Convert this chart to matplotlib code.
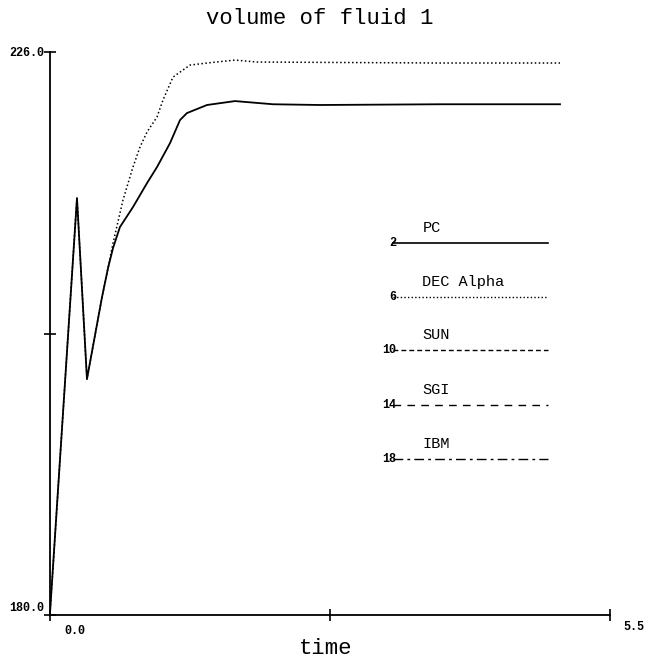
import matplotlib
matplotlib.use("Agg")
import matplotlib.pyplot as plt
from matplotlib.lines import Line2D

# ---- data ----
title = "volume of fluid 1"
xlabel = "time"
x_ticklabels = ["0.0", "5.5"]
y_ticklabels = ["180.0", "226.0"]
xlim = (0.0, 5.5)
ylim = (180.0, 226.0)

pc_time = [0.0, 0.265, 0.363, 0.511, 0.570, 0.619, 0.687, 0.815, 0.953, 1.051,
           1.179, 1.277, 1.345, 1.542, 1.817, 2.190, 2.652, 3.830, 5.009]
pc_vol = [180.16, 214.07, 199.28, 205.98, 208.35, 209.98, 211.70, 213.33, 215.29, 216.60,
          218.56, 220.44, 221.01, 221.67, 221.99, 221.73, 221.67, 221.73, 221.73]

dec_time = [0.0, 0.265, 0.363, 0.511, 0.570, 0.619, 0.717, 0.815, 0.884, 0.953,
            1.051, 1.110, 1.208, 1.375, 1.542, 1.817, 2.033, 3.830, 5.009]
dec_vol = [180.16, 214.07, 199.28, 205.98, 208.35, 210.39, 213.91, 216.60, 218.24, 219.46,
           220.69, 222.08, 223.95, 224.93, 225.10, 225.34, 225.18, 225.10, 225.10]

legend_names = ["PC", "DEC Alpha", "SUN", "SGI", "IBM"]
legend_ids = ["2", "6", "10", "14", "18"]

# ---- styles ----
styles = ["-", (0, (1, 1.6)), (0, (3.5, 2.2)), (0, (5.5, 4.5)), (0, (7, 3, 2, 3))]
mono = "Liberation Mono"

fig = plt.figure(figsize=(6.48, 6.65), dpi=100)
ax = fig.add_axes([50/648, 50/665, 560/648, 563/665])
ax.set_xlim(*xlim)
ax.set_ylim(*ylim)
for s in ["top", "right"]:
    ax.spines[s].set_visible(False)
for s in ["left", "bottom"]:
    ax.spines[s].set_linewidth(1.3)
    ax.spines[s].set_color("black")

ax.plot(pc_time, pc_vol, color="black", lw=1.3, linestyle=styles[0])
ax.plot(dec_time, dec_vol, color="black", lw=1.1, linestyle=styles[1])

# ticks (unlabelled), labels drawn as text
ax.set_xticks([xlim[0], (xlim[0]+xlim[1])/2, xlim[1]])
ax.set_yticks([ylim[0], (ylim[0]+ylim[1])/2, ylim[1]])
ax.set_xticklabels([])
ax.set_yticklabels([])
ax.tick_params(direction="inout", length=8, width=1.2, color="black")

tfont = dict(family=mono, fontsize=8.5, fontweight="bold")
ax.annotate(y_ticklabels[1], (0, 1), xycoords="axes fraction", xytext=(-6, -1),
            textcoords="offset pixels", ha="right", va="center", **tfont)
ax.annotate(y_ticklabels[0], (0, 0), xycoords="axes fraction", xytext=(-6, 7),
            textcoords="offset pixels", ha="right", va="center", **tfont)
ax.annotate(x_ticklabels[0], (0, 0), xycoords="axes fraction", xytext=(25, -16),
            textcoords="offset pixels", ha="center", va="center", **tfont)
ax.annotate(x_ticklabels[1], (1, 0), xycoords="axes fraction", xytext=(24, -12),
            textcoords="offset pixels", ha="center", va="center", **tfont)

fig.text(0.494, 0.972, title, family=mono, fontsize=16, ha="center", va="center")
fig.text(0.502, 0.025, xlabel, family=mono, fontsize=16, ha="center", va="center")

# legend drawn inside the plot area
leg_y = [0.661, 0.565, 0.471, 0.373, 0.277]
x0, x1 = 0.613, 0.889
for name, idn, ls, yy in zip(legend_names, legend_ids, styles, leg_y):
    ax.add_line(Line2D([x0, x1], [yy, yy], transform=ax.transAxes, color="black",
                       lw=1.2 if ls == "-" else 1.0, linestyle=ls))
    ax.text(0.665, yy + 0.026, name, transform=ax.transAxes, family=mono,
            fontsize=11, ha="left", va="center")
    ax.text(0.619, yy, idn, transform=ax.transAxes, family=mono, fontsize=8.5,
            fontweight="bold", ha="right", va="center")

fig.savefig("out.png", dpi=100)
